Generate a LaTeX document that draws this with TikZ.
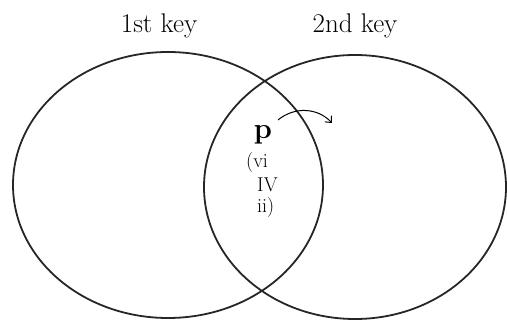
\documentclass[tikz,border=0pt]{standalone}
\usepackage{fontspec}
\usetikzlibrary{arrows.meta}
\begin{document}
\begin{tikzpicture}[x=1pt,y=-1pt,
  setline/.style={draw=black!85,line width=1.8pt},
  keylabel/.style={font=\fontsize{27}{31}\selectfont,anchor=base,inner sep=0pt},
  chord/.style={font=\fontsize{20}{23}\selectfont,anchor=base west,inner sep=0pt}]
\useasboundingbox (0,0) rectangle (507,320);
\draw[setline] (168,185) ellipse [x radius=155, y radius=133];
\draw[setline] (355,187) ellipse [x radius=151, y radius=132];
\node[keylabel] (k1) at (159,33) {1st key};
\node[keylabel] (k2) at (355,33) {2nd key};
\node[font=\fontsize{29}{33}\selectfont\bfseries,anchor=base,inner sep=0pt] (p) at (263,139) {p};
\node[chord] (c1) at (246,168) {(vi};
\node[chord] (c2) at (257,192) {IV};
\node[chord] (c3) at (257,213) {ii)};
\coordinate (a0) at (278,120);
\coordinate (a1) at (332,123);
\draw[black,line width=1pt,-{Straight Barb[length=5pt,width=9pt]}] (a0) .. controls (295,106) and (318,108) .. (a1);
\end{tikzpicture}
\end{document}
